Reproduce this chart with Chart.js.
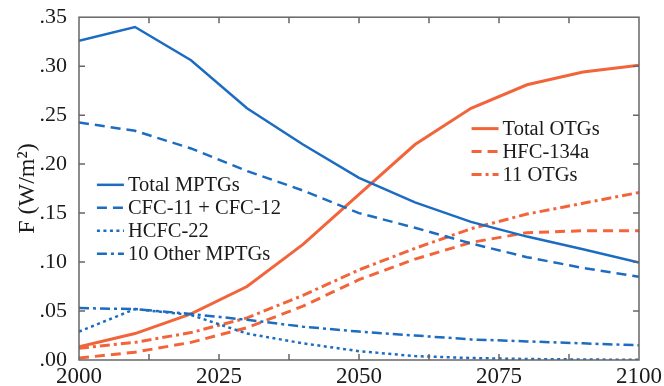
<!DOCTYPE html>
<html>
<head>
<meta charset="utf-8">
<script src="https://cdn.jsdelivr.net/npm/chart.js"></script>
<style>
body{margin:0;background:#fff;}
#wrap{width:664px;height:386px;}
</style>
</head>
<body>
<div id="wrap"><canvas id="graph1"></canvas></div>
<script>
const years = [2000,2010,2020,2030,2040,2050,2060,2070,2080,2090,2100];
const totalMPTGs = [0.326,0.340,0.306,0.257,0.220,0.186,0.161,0.141,0.126,0.113,0.0995];
const cfc11cfc12 = [0.2425,0.234,0.216,0.193,0.173,0.150,0.135,0.119,0.105,0.094,0.085];
const hcfc22 = [0.029,0.052,0.046,0.027,0.017,0.009,0.004,0.002,0.001,0.0005,0.0002];
const otherMPTGs = [0.053,0.052,0.047,0.041,0.034,0.029,0.025,0.021,0.019,0.017,0.015];
const totalOTGs = [0.0135,0.027,0.047,0.075,0.118,0.169,0.220,0.257,0.281,0.294,0.301];
const hfc134a = [0.002,0.008,0.018,0.033,0.055,0.082,0.103,0.120,0.130,0.132,0.132];
const otgs11 = [0.012,0.018,0.028,0.043,0.066,0.092,0.114,0.134,0.149,0.160,0.171];
const xLabelYears = [2000,2025,2050,2075,2100];

const blue = "#1c6cc2";
const orange = "#f2653b";
const serif = "'Liberation Serif','DejaVu Serif',serif";

function pts(arr){
  return years.map((yr,i)=>({x:yr,y:arr[i]}));
}

function ds(label,arr,color,dash,width){
  return {label:label,data:pts(arr),borderColor:color,borderDash:dash,borderWidth:width,
    pointRadius:0,tension:0,fill:false,group:color===blue?0:1};
}

const datasets = [
  ds("Total MPTGs",totalMPTGs,blue,[],2.5),
  ds("CFC-11 + CFC-12",cfc11cfc12,blue,[10,6],2.5),
  ds("HCFC-22",hcfc22,blue,[3,3.5],2.5),
  ds("10 Other MPTGs",otherMPTGs,blue,[10,4,3,4],2.5),
  ds("Total OTGs",totalOTGs,orange,[],3),
  ds("HFC-134a",hfc134a,orange,[10,6],3),
  ds("11 OTGs",otgs11,orange,[10,4,3,4],3)
];

const frame = {
  id:"frame",
  afterDatasetsDraw(chart){
    const c = chart.ctx, a = chart.chartArea;
    const xs = chart.scales.x, ys = chart.scales.y;
    c.save();
    c.strokeStyle = "#666";
    c.lineWidth = 1.5;
    c.strokeRect(a.left,a.top,a.right-a.left,a.bottom-a.top);
    c.beginPath();
    xs.ticks.forEach(t=>{
      const p = xs.getPixelForValue(t.value);
      if(p<=a.left+1||p>=a.right-1) return;
      c.moveTo(p,a.bottom); c.lineTo(p,a.bottom-6);
      c.moveTo(p,a.top); c.lineTo(p,a.top+6);
    });
    ys.ticks.forEach(t=>{
      const p = ys.getPixelForValue(t.value);
      if(p<=a.top+1||p>=a.bottom-1) return;
      c.moveTo(a.left,p); c.lineTo(a.left+6,p);
      c.moveTo(a.right,p); c.lineTo(a.right-6,p);
    });
    c.stroke();
    c.restore();
  }
};

const legends = {
  id:"legends",
  afterDraw(chart){
    const c = chart.ctx, a = chart.chartArea;
    const w = a.right-a.left, h = a.bottom-a.top;
    const spots = [{x:a.left+w*0.032,y:a.top+h*0.489},{x:a.left+w*0.701,y:a.top+h*0.325}];
    const row = [0,0];
    c.save();
    c.font = "20.5px "+serif;
    c.textBaseline = "middle";
    c.fillStyle = "#1a1a1a";
    chart.data.datasets.forEach(d=>{
      const s = spots[d.group];
      const y = s.y + row[d.group]*23;
      row[d.group]++;
      c.strokeStyle = d.borderColor;
      c.lineWidth = d.borderWidth;
      c.setLineDash(d.borderDash);
      c.beginPath();
      c.moveTo(s.x,y); c.lineTo(s.x+27,y);
      c.stroke();
      c.setLineDash([]);
      c.fillText(d.label,s.x+31,y+1);
    });
    c.restore();
  }
};

new Chart(document.getElementById("graph1"),{
  type:"line",
  data:{datasets:datasets},
  options:{
    responsive:true,
    maintainAspectRatio:false,
    animation:false,
    layout:{padding:{top:15,right:25,left:0,bottom:0}},
    plugins:{legend:{display:false},tooltip:{enabled:false}},
    scales:{
      x:{
        type:"linear",min:2000,max:2100,
        grid:{display:false},border:{display:false},
        ticks:{stepSize:12.5,autoSkip:false,maxRotation:0,padding:-5,color:"#1a1a1a",
          font:{family:serif,size:23},
          callback:v=>xLabelYears.includes(v)?String(v):""},
        afterFit:s=>{s.height=26;}
      },
      y:{
        min:0,max:0.35,
        grid:{display:false},border:{display:false},
        ticks:{stepSize:0.05,padding:4,color:"#1a1a1a",font:{family:serif,size:22},
          callback:v=>v.toFixed(2).replace(/^0/,"")},
        title:{display:true,text:"F (W/m²)",color:"#1a1a1a",font:{family:serif,size:24},padding:{top:13,bottom:0}},
        afterFit:s=>{s.width=79;}
      }
    }
  },
  plugins:[frame,legends]
});
</script>
</body>
</html>
